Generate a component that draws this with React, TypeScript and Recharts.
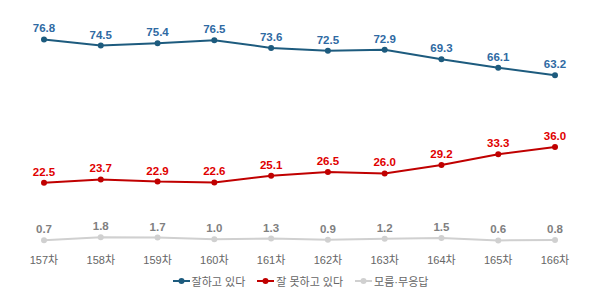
import React from "react";
import { LineChart, Line, XAxis, YAxis, LabelList, Legend } from "recharts";

const rounds = ["157차", "158차", "159차", "160차", "161차", "162차", "163차", "164차", "165차", "166차"];
const doingWell = [76.8, 74.5, 75.4, 76.5, 73.6, 72.5, 72.9, 69.3, 66.1, 63.2];
const doingPoorly = [22.5, 23.7, 22.9, 22.6, 25.1, 26.5, 26.0, 29.2, 33.3, 36.0];
const noAnswer = [0.7, 1.8, 1.7, 1.0, 1.3, 0.9, 1.2, 1.5, 0.6, 0.8];

const seriesNames = ["잘하고 있다", "잘 못하고 있다", "모름·무응답"];
const lineColors = ["#1d5b7e", "#c00000", "#d0d0d0"];
const labelColors = ["#2f6aa3", "#e00000", "#808080"];

const data = rounds.map((r, i) => ({
  round: r,
  well: doingWell[i],
  poorly: doingPoorly[i],
  none: noAnswer[i],
}));

const FONT = "Arial, 'Liberation Sans', 'Noto Sans CJK KR', sans-serif";

const LegendContent = () => (
  <div
    style={{
      display: "flex",
      justifyContent: "center",
      gap: 12,
      fontFamily: FONT,
      fontSize: 11,
      color: "#666666",
      paddingTop: 5,
      paddingLeft: 2,
    }}
  >
    {seriesNames.map((name, i) => (
      <div key={name} style={{ display: "flex", alignItems: "center" }}>
        <svg width={17} height={10} style={{ marginRight: 2 }}>
          <line x1={0} y1={5} x2={17} y2={5} stroke={lineColors[i]} strokeWidth={2} />
          <circle cx={8.5} cy={5} r={3} fill={lineColors[i]} />
        </svg>
        <span>{name}</span>
      </div>
    ))}
  </div>
);

const keys = ["well", "poorly", "none"] as const;

export default function App() {
  return (
    <div style={{ position: "fixed", left: 0, top: 0, width: 600, height: 300, background: "#fff" }}>
      <LineChart width={600} height={300} data={data} margin={{ top: 31, right: 45, bottom: 0, left: 44 }}>
        <XAxis
          dataKey="round"
          axisLine={false}
          tickLine={false}
          interval={0}
          height={26}
          tickMargin={8}
          tick={{ fill: "#666666", fontSize: 11, fontFamily: FONT }}
        />
        <YAxis hide domain={[0, 80]} width={0} />
        <Legend verticalAlign="bottom" height={32} content={<LegendContent />} />
        {keys.map((k, i) => (
          <Line
            key={k}
            dataKey={k}
            name={seriesNames[i]}
            stroke={lineColors[i]}
            strokeWidth={2}
            dot={{ r: 3, fill: lineColors[i], stroke: lineColors[i], strokeWidth: 0 }}
            isAnimationActive={false}
          >
            <LabelList
              dataKey={k}
              position="top"
              offset={7}
              formatter={(v: number) => v.toFixed(1)}
              style={{ fill: labelColors[i], fontSize: 11.5, fontWeight: 700, fontFamily: FONT }}
            />
          </Line>
        ))}
      </LineChart>
    </div>
  );
}
